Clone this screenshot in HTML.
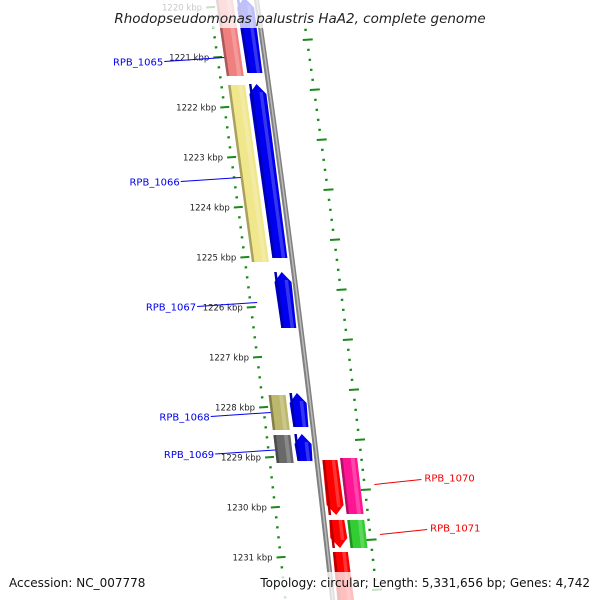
<!DOCTYPE html>
<html><head><meta charset="utf-8"><style>
html,body{margin:0;background:#fff;width:600px;height:600px;overflow:hidden}
svg{display:block;font-family:"DejaVu Sans","Liberation Sans",sans-serif}
</style></head><body>
<svg id="map" width="600" height="600" viewBox="0 0 600 600" xmlns="http://www.w3.org/2000/svg">
<rect width="600" height="600" fill="#fff"/>
<g id="ticks"></g>
<g id="genes"></g>
<g id="labels"></g>
<rect x="0" y="0" width="600" height="28" fill="#fff" opacity="0.75"/>
<text x="300" y="23" text-anchor="middle" font-size="13.5" font-style="italic" fill="#222">Rhodopseudomonas palustris HaA2, complete genome</text>
<rect x="0" y="572" width="600" height="28" fill="#fff" opacity="0.75"/>
<text x="9" y="587" font-size="12" fill="#111">Accession: NC_007778</text>
<text x="590" y="587" text-anchor="end" font-size="12" fill="#111">Topology: circular; Length: 5,331,656 bp; Genes: 4,742</text>
</svg>
<script>
const majorTicks=[1220,1221,1222,1223,1224,1225,1226,1227,1228,1229,1230,1231,1232];
const geneStart=[1219.8,1219.8,1221.55,1221.53,1225.29,1227.75,1227.71,1228.55,1228.53,1229.05,1229.01,1230.25,1230.25,1230.89];
const geneEnd=[1221.37,1221.31,1225.09,1225.01,1226.41,1228.45,1228.39,1229.11,1229.07,1230.15,1230.13,1230.81,1230.81,1232.2];
const geneTrack=["outer","blue","outer","blue","blue","outer","blue","outer","blue","red","mag","red","mag","red"];
const geneColor=["#f08080","#0000ee","#f0e68c","#0000ee","#0000ee","#bdb76b","#0000ee","#696969","#0000ee","#ff0000","#ff1493","#ff0000","#32cd32","#ff0000"];
const geneArrow=["none","up","none","up","up","none","up","none","up","down","none","down","none","down"];
const labelText=["RPB_1065","RPB_1066","RPB_1067","RPB_1068","RPB_1069","RPB_1070","RPB_1071"];
const labelKbp=[1221.0,1223.4,1225.9,1228.1,1228.85,1229.4,1230.4];
const labelSide=["L","L","L","L","L","R","R"];

const NS="http://www.w3.org/2000/svg";
function yOf(k){return 7.5+(k-1220)*50;}
function B(y){return 254+0.145*y-0.00003*y*y;}
const cols={outer:[-38,-21],blue:[-17,-2],red:[8,23],mag:[26,43]};
function mk(tag,attrs,parent){const e=document.createElementNS(NS,tag);for(const k in attrs)e.setAttribute(k,attrs[k]);parent.appendChild(e);return e;}
const tg=document.getElementById('ticks'),gg=document.getElementById('genes'),lg=document.getElementById('labels');

(function(){let p1=[],p2=[];for(let y=-5;y<=605;y+=10){p1.push((B(y))+","+y);p2.unshift((B(y)+5)+","+y);}
const bb=mk('polygon',{points:p1.concat(p2).join(' '),fill:'#808080'},gg);


let q1=[],q2=[];for(let y=-5;y<=605;y+=10){q1.push((B(y)+2)+","+y);q2.unshift((B(y)+3.5)+","+y);}
const bh=mk('polygon',{points:q1.concat(q2).join(' '),fill:'#bbbbbb'},gg);

})();

for(let k=1219.8;k<=1232.0;k+=0.2){
  const kr=Math.round(k*10)/10;const y=yOf(kr);const major=majorTicks.includes(Math.round(kr))&&Math.abs(kr-Math.round(kr))<0.01;
  const x=B(y)-45;
  const t=mk('line',{x1:x-(major?4:1),x2:x+(major?5:1.5),y1:y,y2:y-(major?0.6:0.3),stroke:'#1a8a1a','stroke-width':major?2:2.2},tg);
  
  
  if(major){const lb=mk('text',{x:x-8,y:y+3,'text-anchor':'end','font-size':'8.5',fill:'#222'},tg);lb.textContent=Math.round(kr)+" kbp";
  
  }
  const y2=y+32.5;if(y2>600)continue;const x2=B(y2)+47;
  const t2=mk('line',{x1:x2-(major?4:1),x2:x2+(major?6:1.5),y1:y2,y2:y2-(major?0.6:0.3),stroke:'#1a8a1a','stroke-width':major?2:2.2},tg);
  
  
}

function shade(c,f){const n=parseInt(c.slice(1),16);let r=n>>16,g=(n>>8)&255,b=n&255;const m=v=>Math.max(0,Math.min(255,Math.round(f>1?v+(255-v)*(f-1):v*f)));return `rgb(${m(r)},${m(g)},${m(b)})`;}
function genePoly(y1,y2,c1,c2,arrow){
  const pts=[];const tip=10,cm=(c1+c2)/2;
  if(arrow==='up'){pts.push([B(y1)+cm,y1]);pts.push([B(y1+tip)+c2+1,y1+tip]);pts.push([B(y2)+c2,y2]);pts.push([B(y2)+c1,y2]);pts.push([B(y1+tip)+c1-1,y1+tip]);}
  else if(arrow==='down'){pts.push([B(y1)+c1,y1]);pts.push([B(y1)+c2,y1]);pts.push([B(y2-tip)+c2+1,y2-tip]);pts.push([B(y2)+cm,y2]);pts.push([B(y2-tip)+c1-1,y2-tip]);}
  else{pts.push([B(y1)+c1,y1]);pts.push([B(y1)+c2,y1]);pts.push([B(y2)+c2,y2]);pts.push([B(y2)+c1,y2]);}
  return pts.map(p=>p[0].toFixed(1)+","+p[1].toFixed(1)).join(' ');
}
for(let i=0;i<geneStart.length;i++){
  const y1=yOf(geneStart[i]),y2=yOf(geneEnd[i]);const [c1,c2]=cols[geneTrack[i]];
  const g=mk('g',{},gg);
  
  
  mk('polygon',{points:genePoly(y1,y2,c1,c2,geneArrow[i]),fill:geneColor[i]},g);
  const w=c2-c1;
  mk('polygon',{points:genePoly(y1+(geneArrow[i]==='up'?8:0),y2-(geneArrow[i]==='down'?8:0),c1+w*0.62,c1+w*0.85,'none'),fill:shade(geneColor[i],1.35),opacity:0.6},g);
  mk('polygon',{points:genePoly(y1,y2,c1,c1+2.5,'none'),fill:shade(geneColor[i],0.7)},g);
}
for(let i=0;i<labelText.length;i++){
  const y=yOf(labelKbp[i]);
  if(labelSide[i]==='L'){
    const ex=B(y)-38, lx=ex-60;
    const ln=mk('line',{x1:lx,y1:y+4,x2:ex,y2:y,stroke:'#0000ee','stroke-width':1},lg);
    
    
    const t=mk('text',{x:lx-1,y:y+8,'text-anchor':'end','font-size':'10',fill:'#0000ee'},lg);t.textContent=labelText[i];
    
    
  }else{
    const sx=B(y)+58, lx=sx+47;
    const ln=mk('line',{x1:sx,y1:y+7,x2:lx,y2:y+2,stroke:'#ee0000','stroke-width':1},lg);
    
    
    const t=mk('text',{x:lx+3,y:y+4,'font-size':'10',fill:'#ee0000'},lg);t.textContent=labelText[i];
    
    
  }
}
</script>
</body></html>
